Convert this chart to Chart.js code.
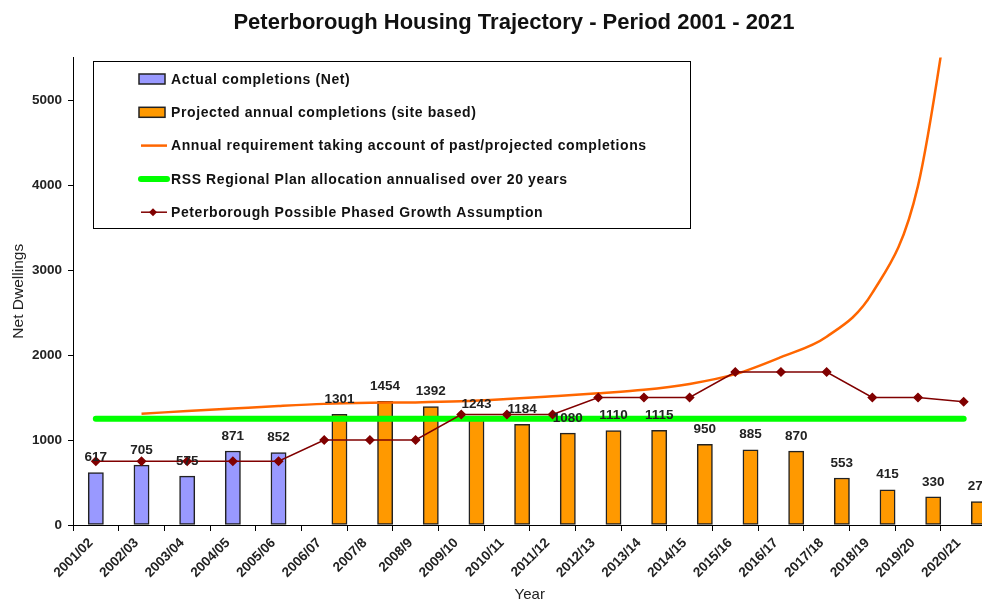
<!DOCTYPE html>
<html>
<head>
<meta charset="utf-8">
<title>Peterborough Housing Trajectory</title>
<script src="https://cdn.jsdelivr.net/npm/chart.js@4.4.0/dist/chart.umd.min.js"></script>
<style>
  html, body { margin: 0; padding: 0; background: #fff; overflow: hidden; }
  /* the last category runs a few pixels past the window edge, as in the original */
  #frame { width: 982px; height: 604px; overflow: hidden; position: relative; }
  #trajectory-chart { display: block; position: absolute; left: 0; top: 0; }
</style>
</head>
<body>
<div id="frame">
  <canvas id="trajectory-chart" width="992" height="604"></canvas>
</div>
<script>
const chartTitle = 'Peterborough Housing Trajectory - Period 2001 - 2021';

const years = ['2001/02', '2002/03', '2003/04', '2004/05', '2005/06', '2006/07', '2007/8', '2008/9',
  '2009/10', '2010/11', '2011/12', '2012/13', '2013/14', '2014/15', '2015/16', '2016/17',
  '2017/18', '2018/19', '2019/20', '2020/21'];

const actualCompletions = [617, 705, 575, 871, 852, null, null, null, null, null,
  null, null, null, null, null, null, null, null, null, null];

const projectedCompletions = [null, null, null, null, null, 1301, 1454, 1392, 1243, 1184,
  1080, 1110, 1115, 950, 885, 870, 553, 415, 330, 275];

const annualRequirement = [null, 1310, 1340, 1370, 1400, 1425, 1438, 1442, 1455, 1482,
  1515, 1550, 1590, 1660, 1775, 1975, 2215, 2730, 3990, 7300];

const rssAllocation = [1250, 1250, 1250, 1250, 1250, 1250, 1250, 1250, 1250, 1250,
  1250, 1250, 1250, 1250, 1250, 1250, 1250, 1250, 1250, 1250];

const phasedGrowth = [750, 750, 750, 750, 750, 1000, 1000, 1000, 1300, 1300,
  1300, 1500, 1500, 1500, 1800, 1800, 1800, 1500, 1500, 1450];

const yTicks = [0, 1000, 2000, 3000, 4000, 5000];

const FONT = '"Liberation Sans", Arial, sans-serif';

// title drawn by hand, it sits a bit right of the canvas centre in the original
const titlePlugin = {
  id: 'pageTitle',
  afterDraw(chart) {
    const ctx = chart.ctx;
    ctx.save();
    ctx.font = 'bold 22px ' + FONT;
    ctx.fillStyle = '#111';
    ctx.textAlign = 'center';
    ctx.textBaseline = 'middle';
    ctx.fillText(chartTitle, 514, 23);
    ctx.restore();
  }
};

const barValues = {
  id: 'barValues',
  afterDatasetsDraw(chart) {
    const ctx = chart.ctx;
    ctx.save();
    ctx.font = 'bold 13.5px ' + FONT;
    ctx.fillStyle = '#222';
    ctx.textAlign = 'center';
    ctx.textBaseline = 'middle';
    chart.data.datasets.forEach((ds, i) => {
      if (ds.type !== 'bar' || !ds.label) return;
      chart.getDatasetMeta(i).data.forEach((bar, j) => {
        const v = ds.data[j];
        if (v == null) return;
        ctx.fillText(String(v), bar.x, bar.y - 15);
      });
    });
    ctx.restore();
  }
};

// boxed legend inside the plot
const boxLegend = {
  id: 'boxLegend',
  afterDraw(chart) {
    const ctx = chart.ctx;
    ctx.save();
    ctx.fillStyle = '#fff';
    ctx.fillRect(93.5, 61.5, 597, 167);
    ctx.strokeStyle = '#000';
    ctx.lineWidth = 1;
    ctx.strokeRect(93.5, 61.5, 597, 167);

    const rows = chart.data.datasets.filter(ds => ds.label);
    rows.forEach((ds, k) => {
      const y = 79 + k * 33.3;
      if (ds.type === 'bar') {
        ctx.fillStyle = ds.backgroundColor;
        ctx.fillRect(139, y - 5, 26, 10);
        ctx.strokeStyle = '#222';
        ctx.lineWidth = 1.5;
        ctx.strokeRect(139, y - 5, 26, 10);
      } else {
        ctx.strokeStyle = ds.borderColor;
        ctx.lineWidth = ds.borderWidth;
        ctx.lineCap = ds.borderCapStyle || 'butt';
        ctx.beginPath();
        ctx.moveTo(141, y);
        ctx.lineTo(167, y);
        ctx.stroke();
        if (ds.pointRadius > 0) {
          ctx.fillStyle = ds.pointBackgroundColor;
          ctx.beginPath();
          ctx.moveTo(153, y - 4);
          ctx.lineTo(157, y);
          ctx.lineTo(153, y + 4);
          ctx.lineTo(149, y);
          ctx.closePath();
          ctx.fill();
        }
      }
      ctx.fillStyle = '#111';
      ctx.font = 'bold 14px ' + FONT;
      ctx.letterSpacing = '0.6px';
      ctx.textAlign = 'left';
      ctx.textBaseline = 'middle';
      ctx.fillText(ds.label, 171, y + 1);
      ctx.letterSpacing = '0px';
    });
    ctx.restore();
  }
};

const ctx = document.getElementById('trajectory-chart');

const trajectoryChart = new Chart(ctx, {
  type: 'bar',
  data: {
    labels: years,
    datasets: [
      {
        // empty slot so the projected bars sit on the right of each category
        type: 'bar',
        label: '',
        data: [],
        order: 3
      },
      {
        type: 'bar',
        label: 'Actual completions (Net)',
        data: actualCompletions,
        backgroundColor: '#9999FF',
        borderColor: '#222',
        borderWidth: 1.5,
        borderSkipped: false,
        order: 3
      },
      {
        type: 'bar',
        label: 'Projected annual completions (site based)',
        data: projectedCompletions,
        backgroundColor: '#FF9900',
        borderColor: '#222',
        borderWidth: 1.5,
        borderSkipped: false,
        order: 3
      },
      {
        type: 'line',
        label: 'Annual requirement taking account of past/projected completions',
        data: annualRequirement,
        borderColor: '#FF6600',
        borderWidth: 2.5,
        pointRadius: 0,
        cubicInterpolationMode: 'monotone',
        order: 1
      },
      {
        type: 'line',
        label: 'RSS Regional Plan allocation annualised over 20 years',
        data: rssAllocation,
        borderColor: '#00FF00',
        borderWidth: 6,
        borderCapStyle: 'round',
        pointRadius: 0,
        order: 2
      },
      {
        type: 'line',
        label: 'Peterborough Possible Phased Growth Assumption',
        data: phasedGrowth,
        borderColor: '#800000',
        borderWidth: 1.5,
        pointStyle: 'rectRot',
        pointRadius: 4,
        pointBackgroundColor: '#800000',
        pointBorderColor: '#800000',
        order: 0
      }
    ]
  },
  options: {
    responsive: false,
    animation: false,
    layout: {
      padding: { top: 57.5, right: 0, left: 0, bottom: 0 }
    },
    datasets: {
      bar: {
        categoryPercentage: 1,
        barPercentage: 1
      }
    },
    plugins: {
      legend: { display: false },
      tooltip: { enabled: false }
    },
    scales: {
      x: {
        offset: true,
        grid: {
          offset: true,
          drawOnChartArea: false,
          tickLength: 6,
          color: '#000'
        },
        border: { color: '#000', width: 1 },
        ticks: {
          autoSkip: false,
          minRotation: 45,
          maxRotation: 45,
          padding: 4,
          labelOffset: -5,
          color: '#222',
          font: { size: 13.5, weight: 'bold', family: FONT }
        },
        title: {
          display: true,
          text: 'Year',
          color: '#222',
          padding: { top: 0, bottom: 0 },
          font: { size: 15, family: FONT }
        },
        afterFit(scale) {
          scale.height = 79;
          scale.paddingLeft = 0;
          scale.paddingRight = 0;
        }
      },
      y: {
        min: 0,
        max: 5500,
        grid: {
          drawOnChartArea: false,
          tickLength: 5,
          color: '#000'
        },
        border: { color: '#000', width: 1 },
        ticks: {
          stepSize: 1000,
          padding: 6,
          color: '#222',
          font: { size: 13.5, weight: 'bold', family: FONT },
          callback: v => String(v)
        },
        title: {
          display: true,
          text: 'Net Dwellings',
          color: '#222',
          padding: { top: 9, bottom: 0 },
          font: { size: 15.5, family: FONT }
        },
        afterBuildTicks(scale) {
          scale.ticks = yTicks.map(v => ({ value: v }));
        },
        afterFit(scale) {
          scale.width = 73;
        }
      }
    }
  },
  plugins: [titlePlugin, barValues, boxLegend]
});
</script>
</body>
</html>
